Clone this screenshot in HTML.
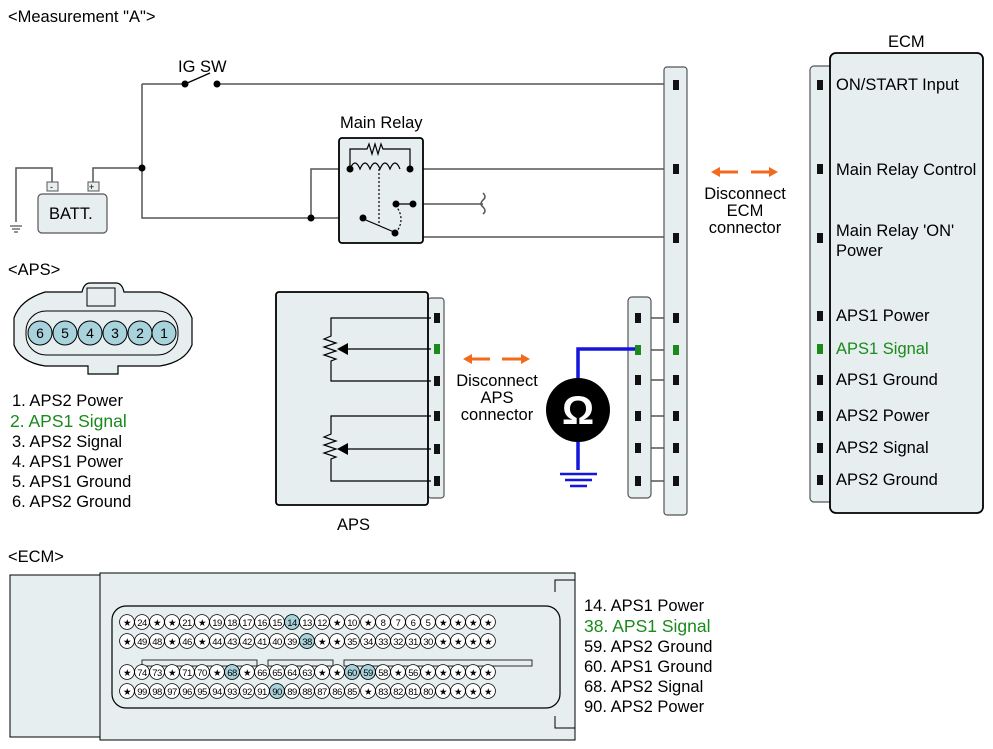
<!DOCTYPE html>
<html><head><meta charset="utf-8"><style>
body{margin:0;background:#fff}
svg{display:block;font-family:"Liberation Sans",sans-serif}
</style></head><body>
<svg width="993" height="749" viewBox="0 0 993 749" xmlns="http://www.w3.org/2000/svg">
<g font-size="16.5" fill="#000">
<text x="8" y="22">&lt;Measurement "A"&gt;</text>
<text x="178" y="72">IG SW</text>
<text x="340" y="128">Main Relay</text>
<text x="888" y="47">ECM</text>
<text x="8" y="275">&lt;APS&gt;</text>
<text x="337" y="530">APS</text>
<text x="8" y="562">&lt;ECM&gt;</text>
<text x="745" y="199" text-anchor="middle">Disconnect</text>
<text x="745" y="216" text-anchor="middle">ECM</text>
<text x="745" y="233" text-anchor="middle">connector</text>
<text x="497" y="386" text-anchor="middle">Disconnect</text>
<text x="497" y="403" text-anchor="middle">APS</text>
<text x="497" y="420" text-anchor="middle">connector</text>
<text x="12" y="406">1. APS2 Power</text>
<text x="10" y="427" fill="#1a8a1a" font-size="17.5">2. APS1 Signal</text>
<text x="12" y="447">3. APS2 Signal</text>
<text x="12" y="467">4. APS1 Power</text>
<text x="12" y="487">5. APS1 Ground</text>
<text x="12" y="507">6. APS2 Ground</text>
<text x="584" y="611">14. APS1 Power</text>
<text x="584" y="632" fill="#1a8a1a" font-size="17.5">38. APS1 Signal</text>
<text x="584" y="652">59. APS2 Ground</text>
<text x="584" y="672">60. APS1 Ground</text>
<text x="584" y="692">68. APS2 Signal</text>
<text x="584" y="712">90. APS2 Power</text>
</g>
<!-- ECM block -->
<rect x="810" y="66" width="24" height="436" rx="4" fill="#e6eeef" stroke="#555" stroke-width="1.2"/>
<rect x="830" y="53" width="153" height="460" rx="6" fill="#e6eeef" stroke="#000" stroke-width="1.8"/>
<g font-size="16.5">
<text x="836" y="90">ON/START Input</text>
<text x="836" y="175">Main Relay Control</text>
<text x="836" y="236">Main Relay 'ON'</text>
<text x="836" y="256">Power</text>
<text x="836" y="321">APS1 Power</text>
<text x="836" y="354" fill="#1a8a1a">APS1 Signal</text>
<text x="836" y="385">APS1 Ground</text>
<text x="836" y="421">APS2 Power</text>
<text x="836" y="453">APS2 Signal</text>
<text x="836" y="485">APS2 Ground</text>
</g>
<g fill="#111">
<rect x="817" y="80" width="6" height="10"/><rect x="817" y="164" width="6" height="10"/><rect x="817" y="233" width="6" height="10"/>
<rect x="817" y="311" width="6" height="10"/><rect x="817" y="344" width="6" height="10" fill="#1a8a1a"/><rect x="817" y="375" width="6" height="10"/>
<rect x="817" y="411" width="6" height="10"/><rect x="817" y="443" width="6" height="10"/><rect x="817" y="475" width="6" height="10"/>
</g>
<!-- wires -->
<g stroke="#555" stroke-width="1.5" fill="none">
<path d="M142 84 H185 M217 84 H670"/>
<path d="M142 84 V218 H361"/>
<path d="M93 184 V168 H142"/>
<path d="M52 184 V168 H16 V222"/>
<path d="M311 218 V169 H350"/>
<path d="M410 169 H670"/>
<path d="M413 204 H483"/>
<path d="M483 193 q4 4 0 7 q-4 4 0 7 q4 4 0 7"/>
<path d="M413 204 V237 H670"/>
<path d="M651 318 H670 M651 380 H670 M651 416 H670 M651 448 H670 M651 481 H670"/>
<path d="M651 350 H670"/>
</g>
<path d="M10 226 H22 M12 229 H20 M14 232 H18" stroke="#555" stroke-width="1.2"/>
<!-- IG switch -->
<circle cx="185" cy="84" r="3.5"/><circle cx="217" cy="84" r="3.5"/>
<line x1="185" y1="84" x2="210" y2="73" stroke="#000" stroke-width="1.3"/>
<circle cx="142" cy="168" r="3.5"/><circle cx="311" cy="218" r="3.5"/>
<!-- battery -->
<rect x="47" y="182" width="11" height="9" fill="#e6eeef" stroke="#555"/><text x="50" y="190" font-size="9">-</text>
<rect x="88" y="182" width="11" height="9" fill="#e6eeef" stroke="#555"/><text x="89" y="190" font-size="9">+</text>
<rect x="38" y="194" width="69" height="39" rx="4" fill="#e6eeef" stroke="#555" stroke-width="1.2"/>
<text x="49" y="219" font-size="16.5">BATT.</text>
<!-- relay -->
<rect x="339" y="138" width="84" height="105" rx="3" fill="#e6eeef" stroke="#000" stroke-width="1.8"/>
<g stroke="#000" stroke-width="1.2" fill="none">
<path d="M350 169 V149 H367 l2 -5 l3 10 l3 -10 l3 10 l3 -10 l2 5 H410 V169"/>
<path d="M350 169 q5 -12 10 0 q5 -12 10 0 q5 -12 10 0 q5 -12 10 0 q5 -12 10 0"/>
<path d="M379 169 V226" stroke-dasharray="2 2"/>
<path d="M361 218 L394 232"/>
<path d="M396 204 H413"/>
<path d="M396 233 q10 -14 0 -27" stroke-dasharray="2 2"/>
</g>
<g fill="#000"><circle cx="350" cy="169" r="3.5"/><circle cx="410" cy="169" r="3.5"/><circle cx="396" cy="204" r="3.5"/><circle cx="413" cy="204" r="3.5"/><circle cx="363" cy="218" r="3.5"/><circle cx="395" cy="233" r="3.5"/></g>
<!-- ECM connector strip -->
<rect x="664" y="67" width="23" height="448" rx="3" fill="#e6eeef" stroke="#555" stroke-width="1.2"/>
<rect x="628" y="297" width="23" height="201" rx="4" fill="#e6eeef" stroke="#555" stroke-width="1.2"/>
<g fill="#111">
<rect x="673" y="80" width="6" height="10"/><rect x="673" y="164" width="6" height="10"/><rect x="673" y="233" width="6" height="10"/>
<rect x="673" y="313" width="6" height="10"/><rect x="673" y="345" width="6" height="10" fill="#1a8a1a"/><rect x="673" y="375" width="6" height="10"/>
<rect x="673" y="411" width="6" height="10"/><rect x="673" y="443" width="6" height="10"/><rect x="673" y="476" width="6" height="10"/>
<rect x="635" y="313" width="6" height="10"/><rect x="635" y="345" width="6" height="10" fill="#1a8a1a"/><rect x="635" y="375" width="6" height="10"/>
<rect x="635" y="411" width="6" height="10"/><rect x="635" y="443" width="6" height="10"/><rect x="635" y="476" width="6" height="10"/>
</g>
<!-- arrows -->
<g stroke="#f26a1b" stroke-width="3" fill="#f26a1b">
<line x1="718" y1="172" x2="738" y2="172"/><path d="M711 172 l9 -5 v10z" stroke="none"/>
<line x1="751" y1="172" x2="770" y2="172"/><path d="M778 172 l-9 -5 v10z" stroke="none"/>
<line x1="470" y1="359" x2="490" y2="359"/><path d="M463 359 l9 -5 v10z" stroke="none"/>
<line x1="502" y1="359" x2="522" y2="359"/><path d="M530 359 l-9 -5 v10z" stroke="none"/>
</g>
<!-- ohm meter -->
<path d="M635 349 H578 V470" stroke="#1515e0" stroke-width="3.5" fill="none"/>
<path d="M560 474 H597 M565 480 H592 M570 486 H587" stroke="#1515e0" stroke-width="2.5"/>
<circle cx="578" cy="410" r="32" fill="#000"/>
<text x="578" y="424" font-size="40" font-weight="bold" fill="#fff" text-anchor="middle">Ω</text>
<!-- APS block -->
<rect x="428" y="298" width="16" height="200" rx="3" fill="#e6eeef" stroke="#555" stroke-width="1.2"/>
<rect x="276" y="292" width="152" height="213" rx="3" fill="#e6eeef" stroke="#000" stroke-width="1.8"/>
<g stroke="#000" stroke-width="1.2" fill="none">
<path d="M431 318 H331 V336 l-7 3 l12 4 l-12 4 l12 4 l-12 4 l12 4 l-5 2 V381 H431"/>
<path d="M431 349 H345"/>
<path d="M431 416 H331 V434 l-7 3 l12 4 l-12 4 l12 4 l-12 4 l12 4 l-5 2 V481 H431"/>
<path d="M431 449 H345"/>
</g>
<path d="M337 349 l11 -6 v12z M337 449 l11 -6 v12z" fill="#000"/>
<g fill="#111">
<rect x="434" y="313" width="6" height="10"/><rect x="434" y="344" width="6" height="10" fill="#1a8a1a"/><rect x="434" y="376" width="6" height="10"/>
<rect x="434" y="411" width="6" height="10"/><rect x="434" y="444" width="6" height="10"/><rect x="434" y="476" width="6" height="10"/>
</g>
<!-- APS connector -->
<path d="M14 345 V318 Q20 300 45 292 H82 Q84 283 90 283 H116 Q122 283 124 292 H160 Q185 300 192 318 V345 Q185 362 160 366 H118 V374 H88 V366 H45 Q20 362 14 345Z" fill="#e6eeef" stroke="#000" stroke-width="1.2"/>
<rect x="87" y="288" width="28" height="18" fill="#e6eeef" stroke="#000"/>
<rect x="26" y="311" width="152" height="44" rx="20" fill="#e6eeef" stroke="#000"/>
<g fill="#a9d3dc" stroke="#000" stroke-width="1"><circle cx="40" cy="333" r="12"/><circle cx="65" cy="333" r="12"/><circle cx="90" cy="333" r="12"/><circle cx="115" cy="333" r="12"/><circle cx="140" cy="333" r="12"/><circle cx="164" cy="333" r="12"/></g>
<g font-size="14" text-anchor="middle"><text x="40" y="338">6</text><text x="65" y="338">5</text><text x="90" y="338">4</text><text x="115" y="338">3</text><text x="140" y="338">2</text><text x="164" y="338">1</text></g>
<!-- ECM connector bottom -->
<rect x="10" y="575" width="90" height="162" fill="#e6eeef" stroke="#000" stroke-width="1"/>
<rect x="100" y="573" width="475" height="167" fill="#e6eeef" stroke="#000" stroke-width="1"/>
<path d="M575 580 H555 V592 M575 728 H555 V716" stroke="#000" fill="none"/>
<rect x="112" y="606" width="448" height="102" rx="14" fill="#e6eeef" stroke="#000" stroke-width="1.2"/>
<rect x="142" y="660" width="115" height="6" fill="none" stroke="#000" stroke-width=".8"/>
<rect x="268" y="660" width="65" height="6" fill="none" stroke="#000" stroke-width=".8"/>
<rect x="344" y="660" width="188" height="6" fill="none" stroke="#000" stroke-width=".8"/>
<g stroke="#000" stroke-width=".8" fill="#fff">
<g id="r1"><circle cx="127" cy="622" r="7.4"/><circle cx="142" cy="622" r="7.4"/><circle cx="157" cy="622" r="7.4"/><circle cx="172" cy="622" r="7.4"/><circle cx="187" cy="622" r="7.4"/><circle cx="202" cy="622" r="7.4"/><circle cx="217" cy="622" r="7.4"/><circle cx="232" cy="622" r="7.4"/><circle cx="247" cy="622" r="7.4"/><circle cx="262" cy="622" r="7.4"/><circle cx="277" cy="622" r="7.4"/><circle cx="292" cy="622" r="7.4"/><circle cx="307" cy="622" r="7.4"/><circle cx="322" cy="622" r="7.4"/><circle cx="337" cy="622" r="7.4"/><circle cx="352" cy="622" r="7.4"/><circle cx="368" cy="622" r="7.4"/><circle cx="383" cy="622" r="7.4"/><circle cx="398" cy="622" r="7.4"/><circle cx="413" cy="622" r="7.4"/><circle cx="428" cy="622" r="7.4"/><circle cx="443" cy="622" r="7.4"/><circle cx="458" cy="622" r="7.4"/><circle cx="473" cy="622" r="7.4"/><circle cx="488" cy="622" r="7.4"/></g>
<use href="#r1" y="19"/><use href="#r1" y="50"/><use href="#r1" y="69"/>
</g>
<g fill="#a9d3dc" stroke="#000" stroke-width=".8"><circle cx="292" cy="622" r="7.4"/><circle cx="307" cy="641" r="7.4"/><circle cx="232" cy="672" r="7.4"/><circle cx="352" cy="672" r="7.4"/><circle cx="368" cy="672" r="7.4"/><circle cx="277" cy="691" r="7.4"/></g>
<g font-size="9.5" text-anchor="middle" letter-spacing="-0.5">
<text y="626"><tspan x="127">★</tspan><tspan x="142">24</tspan><tspan x="157">★</tspan><tspan x="172">★</tspan><tspan x="187">21</tspan><tspan x="202">★</tspan><tspan x="217">19</tspan><tspan x="232">18</tspan><tspan x="247">17</tspan><tspan x="262">16</tspan><tspan x="277">15</tspan><tspan x="292">14</tspan><tspan x="307">13</tspan><tspan x="322">12</tspan><tspan x="337">★</tspan><tspan x="352">10</tspan><tspan x="368">★</tspan><tspan x="383">8</tspan><tspan x="398">7</tspan><tspan x="413">6</tspan><tspan x="428">5</tspan><tspan x="443">★</tspan><tspan x="458">★</tspan><tspan x="473">★</tspan><tspan x="488">★</tspan></text>
<text y="645"><tspan x="127">★</tspan><tspan x="142">49</tspan><tspan x="157">48</tspan><tspan x="172">★</tspan><tspan x="187">46</tspan><tspan x="202">★</tspan><tspan x="217">44</tspan><tspan x="232">43</tspan><tspan x="247">42</tspan><tspan x="262">41</tspan><tspan x="277">40</tspan><tspan x="292">39</tspan><tspan x="307">38</tspan><tspan x="322">★</tspan><tspan x="337">★</tspan><tspan x="352">35</tspan><tspan x="368">34</tspan><tspan x="383">33</tspan><tspan x="398">32</tspan><tspan x="413">31</tspan><tspan x="428">30</tspan><tspan x="443">★</tspan><tspan x="458">★</tspan><tspan x="473">★</tspan><tspan x="488">★</tspan></text>
<text y="676"><tspan x="127">★</tspan><tspan x="142">74</tspan><tspan x="157">73</tspan><tspan x="172">★</tspan><tspan x="187">71</tspan><tspan x="202">70</tspan><tspan x="217">★</tspan><tspan x="232">68</tspan><tspan x="247">★</tspan><tspan x="262">66</tspan><tspan x="277">65</tspan><tspan x="292">64</tspan><tspan x="307">63</tspan><tspan x="322">★</tspan><tspan x="337">★</tspan><tspan x="352">60</tspan><tspan x="368">59</tspan><tspan x="383">58</tspan><tspan x="398">★</tspan><tspan x="413">56</tspan><tspan x="428">★</tspan><tspan x="443">★</tspan><tspan x="458">★</tspan><tspan x="473">★</tspan><tspan x="488">★</tspan></text>
<text y="695"><tspan x="127">★</tspan><tspan x="142">99</tspan><tspan x="157">98</tspan><tspan x="172">97</tspan><tspan x="187">96</tspan><tspan x="202">95</tspan><tspan x="217">94</tspan><tspan x="232">93</tspan><tspan x="247">92</tspan><tspan x="262">91</tspan><tspan x="277">90</tspan><tspan x="292">89</tspan><tspan x="307">88</tspan><tspan x="322">87</tspan><tspan x="337">86</tspan><tspan x="352">85</tspan><tspan x="368">★</tspan><tspan x="383">83</tspan><tspan x="398">82</tspan><tspan x="413">81</tspan><tspan x="428">80</tspan><tspan x="443">★</tspan><tspan x="458">★</tspan><tspan x="473">★</tspan><tspan x="488">★</tspan></text>
</g>
</svg>
</body></html>
